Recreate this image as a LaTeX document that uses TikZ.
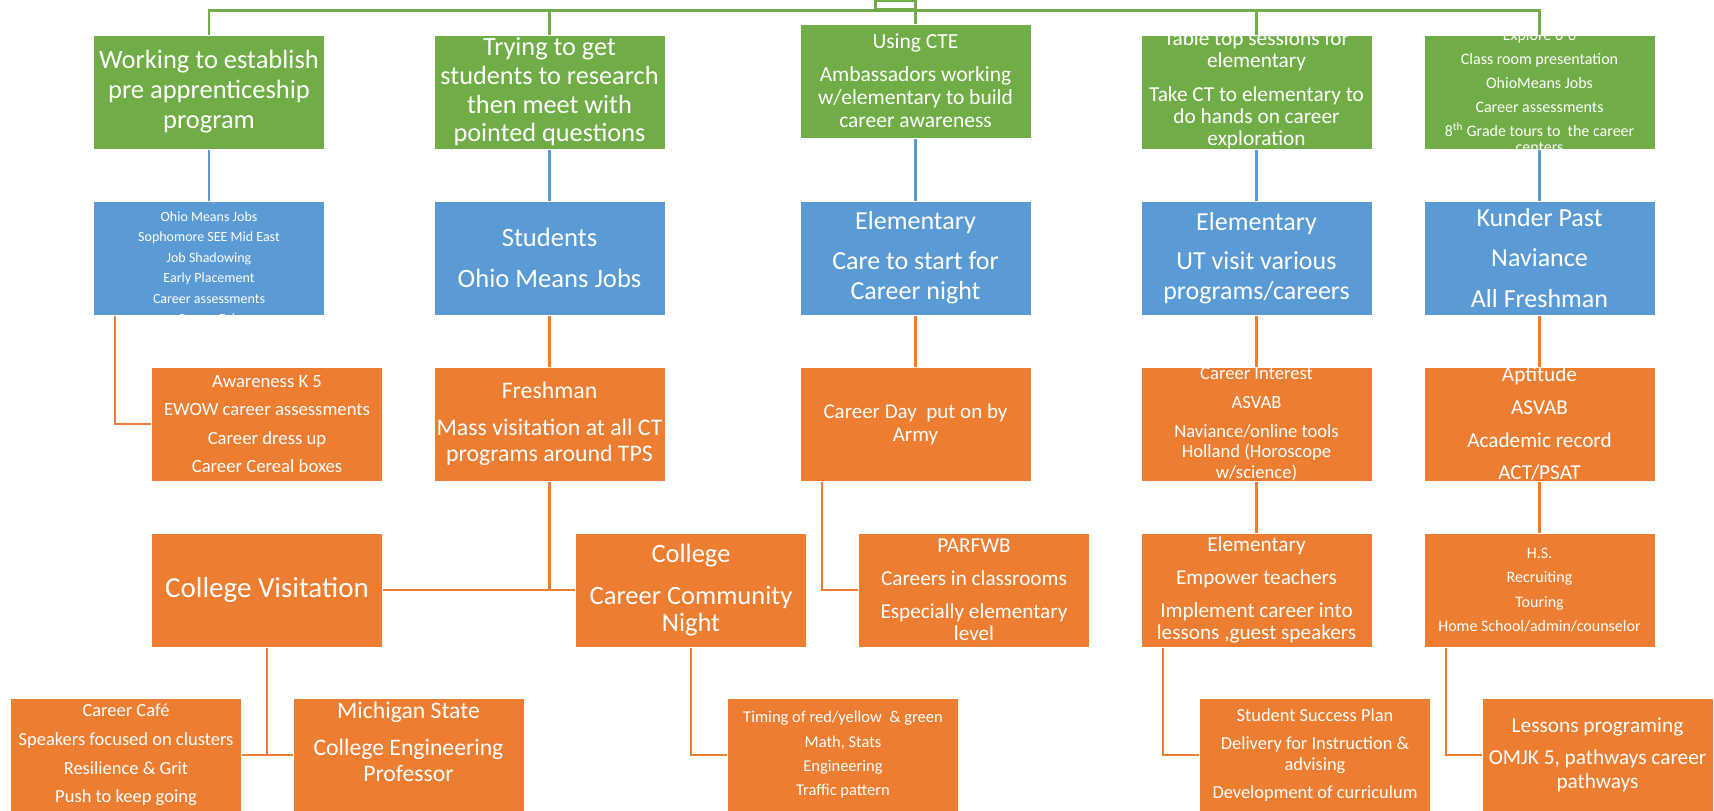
\documentclass[tikz,border=0pt]{standalone}
\usepackage{fontspec}
\setmainfont{Carlito}

\definecolor{smgreen}{HTML}{70AD47}
\definecolor{smblue}{HTML}{5B9BD5}
\definecolor{smorange}{HTML}{ED7D31}
\newcommand{\boxfont}[2]{\fontsize{#1}{#2}\selectfont}

\tikzset{
  box/.style={rectangle, draw=white, line width=1pt, text=white, minimum width=231pt, minimum height=114pt, inner sep=0pt, align=center},
  gbox/.style={box, fill=smgreen},
  bbox/.style={box, fill=smblue},
  obox/.style={box, fill=smorange},
  cliptext/.style={rectangle, draw=none, fill=none, text=white, align=center, inner sep=0pt, minimum width=0pt, minimum height=0pt},
  gline/.style={smgreen, line width=2.5pt},
  bline/.style={smblue, line width=2.5pt},
  oline/.style={smorange, line width=2.5pt}
}

\begin{document}
\begin{tikzpicture}[x=1pt, y=-1pt]
	\useasboundingbox (0,0) rectangle (1714,811);
	% green row
	\node[draw=smgreen, line width=2.5pt, minimum width=40pt, minimum height=8pt, inner sep=0pt] (root) at (895.5,5) {};
	\node[gbox, font={\boxfont{26.5}{30}}] (g1) at (209,92) {Working to establish\\pre apprenticeship\\program};
	\node[gbox, font={\boxfont{26.3}{28.7}}] (g2) at (549.5,92) {Trying to get\\students to research\\then meet with\\pointed questions};
	\node[gbox, font={\boxfont{21.5}{23}}] (g3) at (915.5,81) {Using CTE\\[10pt]Ambassadors working\\w/elementary to build\\career awareness};
	\node[gbox, path picture={\node[cliptext, font={\boxfont{21.3}{22}}] at ([yshift=2pt]path picture bounding box.center) {Table top sessions for\\elementary\\[12pt]Take CT to elementary to\\do hands on career\\exploration};}] (g4) at (1256.5,92) {};
	\node[gbox, path picture={\node[cliptext, font={\boxfont{16}{16}}] at ([yshift=1pt]path picture bounding box.center) {Explore 6-8\\[8pt]Class room presentation\\[8pt]OhioMeans Jobs\\[8pt]Career assessments\\[8pt]8\textsuperscript{th} Grade tours to~ the career\\centers};}] (g5) at (1539.5,92) {};
	% blue row
	\node[bbox, path picture={\node[cliptext, font={\boxfont{14}{20.5}}] at (path picture bounding box.center) {Ag\\Ohio Means Jobs\\Sophomore SEE Mid East\\Job Shadowing\\Early Placement\\Career assessments\\Career Fair};}] (b1) at (209,258) {};
	\node[bbox, font={\boxfont{26.6}{41}}] (b2) at (549.5,258) {Students\\Ohio Means Jobs};
	\node[bbox, font={\boxfont{26}{30}}] (b3) at (915.5,258) {Elementary\\[10pt]Care to start for\\Career night};
	\node[bbox, font={\boxfont{26}{30}}] (b4) at (1256.5,258) {Elementary\\[9pt]UT visit various\\programs/careers};
	\node[bbox, font={\boxfont{26}{40.5}}] (b5) at (1539.5,258) {Kunder Past\\Naviance\\All Freshman};
	% orange rows
	\node[obox, font={\boxfont{18.7}{28.5}}] (o1) at (267,424) {Awareness K 5\\EWOW career assessments\\Career dress up\\Career Cereal boxes};
	\node[obox, font={\boxfont{23.8}{26}}] (o2) at (549.5,424) {Freshman\\[11pt]Mass visitation at all CT\\programs around TPS};
	\node[obox, font={\boxfont{21}{23}}] (o3) at (915.5,424) {Career Day~ put on by\\Army};
	\node[obox, font={\boxfont{18.6}{20.5}}] (o4) at (1256.5,424) {Career Interest\\[8.5pt]ASVAB\\[8.5pt]Naviance/online tools\\Holland (Horoscope\\w/science)};
	\node[obox, font={\boxfont{21.2}{32.7}}] (o5) at (1539.5,424) {Aptitude\\ASVAB\\Academic record\\ACT/PSAT};
	\node[obox, font={\boxfont{29}{30}}] (o6) at (267,590) {College Visitation};
	\node[obox, font={\boxfont{26.5}{27}}] (o7) at (691,590) {College\\[15pt]Career Community\\Night};
	\node[obox, font={\boxfont{21.2}{22}}] (o8) at (974,590) {PARFWB\\[11pt]Careers in classrooms\\[11pt]Especially elementary\\level};
	\node[obox, font={\boxfont{21.2}{22}}] (o9) at (1256.5,590) {Elementary\\[11pt]Empower teachers\\[11pt]Implement career into\\lessons ,guest speakers};
	\node[obox, font={\boxfont{16}{24.3}}] (o10) at (1539.5,590) {H.S.\\Recruiting\\Touring\\Home School/admin/counselor};
	\node[obox, font={\boxfont{18.5}{28.7}}] (o11) at (126,755) {Career Café\\Speakers focused on clusters\\Resilience \& Grit\\Push to keep going};
	\node[obox, font={\boxfont{23.7}{26}}] (o12) at (408.5,755) {Michigan State\\[11pt]College Engineering\\Professor\\\mbox{}};
	\node[obox, font={\boxfont{16.5}{24.3}}] (o13) at (843,755) {Timing of red/yellow~ \& green\\Math, Stats\\Engineering\\Traffic pattern};
	\node[obox, font={\boxfont{18.4}{21}}] (o14) at (1315,755) {Student Success Plan\\[7pt]Delivery for Instruction \&\\advising\\[7pt]Development of curriculum};
	\node[obox, font={\boxfont{21.3}{24}}] (o15) at (1597.5,755) {Lessons programing\\[8pt]OMJK 5, pathways career\\pathways};
	% connectors
	\draw[gline] (g1.north) |- (root.south);
	\draw[gline] (g5.north) |- (root.south);
	\foreach \i in {2,3,4}
		\draw[gline] (g\i.north) -- (g\i.north |- root.south);
	\foreach \i in {1,...,5}
		\draw[bline] (g\i.south) -- (b\i.north);
	\draw[oline] ([xshift=-94pt]b1.south) |- (o1.west);
	\foreach \i in {2,...,5}
		\draw[oline] (b\i.south) -- (o\i.north);
	\draw[oline] (o2.south) -- (o2.south |- o6.east);
	\draw[oline] (o6.east) -- (o7.west);
	\draw[oline] ([xshift=-93.5pt]o3.south) |- (o8.west);
	\draw[oline] (o4.south) -- (o9.north);
	\draw[oline] (o5.south) -- (o10.north);
	\draw[oline] (o6.south) -- (o6.south |- o11.east);
	\draw[oline] (o11.east) -- (o12.west);
	\draw[oline] (o7.south) |- (o13.west);
	\draw[oline] ([xshift=-93.5pt]o9.south) |- (o14.west);
	\draw[oline] ([xshift=-93.5pt]o10.south) |- (o15.west);
\end{tikzpicture}
\end{document}
